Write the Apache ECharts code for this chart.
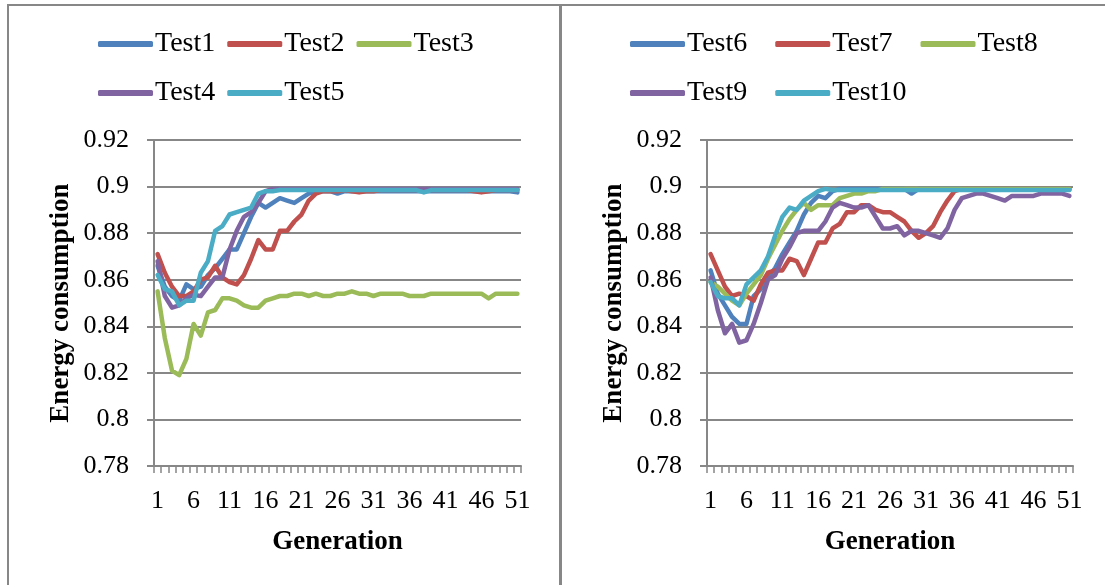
<!DOCTYPE html>
<html>
<head>
<meta charset="utf-8">
<script src="https://cdn.jsdelivr.net/npm/echarts@6/dist/echarts.min.js"></script>
<style>html,body{margin:0;padding:0;background:#fff;}#c{width:1105px;height:585px;}</style>
</head>
<body>
<div id="c"></div>
<script>
const categories = ['1','2','3','4','5','6','7','8','9','10','11','12','13','14','15','16','17','18','19','20','21','22','23','24','25','26','27','28','29','30','31','32','33','34','35','36','37','38','39','40','41','42','43','44','45','46','47','48','49','50','51'];
const yTicks = [0.78, 0.80, 0.82, 0.84, 0.86, 0.88, 0.90, 0.92];

const test1 = [0.866,0.857,0.853,0.851,0.858,0.856,0.857,0.862,0.865,0.869,0.873,0.873,0.880,0.887,0.893,0.891,0.893,0.895,0.894,0.893,0.895,0.897,0.898,0.898,0.898,0.897,0.898,0.898,0.898,0.898,0.898,0.898,0.898,0.898,0.898,0.898,0.898,0.898,0.898,0.898,0.898,0.898,0.898,0.898,0.898,0.898,0.898,0.898,0.898,0.898,0.8975];
const test2 = [0.871,0.863,0.857,0.853,0.853,0.855,0.860,0.861,0.866,0.861,0.859,0.858,0.862,0.869,0.877,0.873,0.873,0.881,0.881,0.885,0.888,0.894,0.897,0.898,0.898,0.898,0.8985,0.898,0.8975,0.898,0.898,0.8985,0.8985,0.8985,0.8985,0.8985,0.8985,0.8985,0.8985,0.8985,0.8985,0.8985,0.8985,0.8985,0.898,0.8975,0.898,0.8985,0.8985,0.8985,0.8985];
const test3 = [0.855,0.835,0.821,0.819,0.826,0.841,0.836,0.846,0.847,0.852,0.852,0.851,0.849,0.848,0.848,0.851,0.852,0.853,0.853,0.854,0.854,0.853,0.854,0.853,0.853,0.854,0.854,0.855,0.854,0.854,0.853,0.854,0.854,0.854,0.854,0.853,0.853,0.853,0.854,0.854,0.854,0.854,0.854,0.854,0.854,0.854,0.852,0.854,0.854,0.854,0.854];
const test4 = [0.868,0.853,0.848,0.849,0.852,0.8535,0.853,0.857,0.861,0.861,0.873,0.881,0.887,0.889,0.893,0.898,0.899,0.899,0.899,0.899,0.899,0.899,0.899,0.899,0.899,0.899,0.899,0.899,0.899,0.899,0.899,0.899,0.899,0.899,0.899,0.899,0.899,0.899,0.899,0.899,0.899,0.899,0.899,0.899,0.899,0.899,0.899,0.899,0.899,0.899,0.899];
const test5 = [0.862,0.856,0.855,0.849,0.851,0.851,0.863,0.868,0.881,0.883,0.888,0.889,0.890,0.891,0.897,0.898,0.898,0.8985,0.8985,0.8985,0.8985,0.8985,0.8985,0.8985,0.8985,0.8985,0.8985,0.8985,0.8985,0.8985,0.8985,0.8985,0.8985,0.8985,0.8985,0.8985,0.8985,0.8975,0.8985,0.8985,0.8985,0.8985,0.8985,0.8985,0.8985,0.8985,0.8985,0.8985,0.8985,0.8985,0.8985];

const test6 = [0.864,0.854,0.849,0.844,0.841,0.841,0.853,0.856,0.861,0.865,0.871,0.876,0.881,0.888,0.893,0.896,0.895,0.898,0.899,0.899,0.899,0.899,0.899,0.899,0.899,0.899,0.899,0.899,0.897,0.899,0.899,0.899,0.899,0.899,0.899,0.899,0.899,0.899,0.899,0.899,0.899,0.899,0.899,0.899,0.899,0.899,0.899,0.899,0.899,0.899,0.899];
const test7 = [0.871,0.864,0.857,0.853,0.854,0.853,0.851,0.858,0.863,0.864,0.864,0.869,0.868,0.862,0.869,0.876,0.876,0.882,0.884,0.889,0.889,0.892,0.892,0.890,0.889,0.889,0.887,0.885,0.881,0.878,0.880,0.883,0.889,0.894,0.898,0.899,0.899,0.899,0.899,0.899,0.899,0.899,0.899,0.899,0.899,0.899,0.899,0.899,0.899,0.899,0.899];
const test8 = [0.859,0.857,0.854,0.851,0.849,0.854,0.858,0.862,0.869,0.875,0.881,0.886,0.890,0.893,0.890,0.892,0.892,0.892,0.895,0.896,0.897,0.897,0.898,0.898,0.899,0.899,0.899,0.899,0.899,0.899,0.899,0.899,0.899,0.899,0.899,0.899,0.899,0.899,0.899,0.899,0.899,0.899,0.899,0.899,0.899,0.899,0.899,0.899,0.899,0.899,0.899];
const test9 = [0.861,0.847,0.837,0.841,0.833,0.834,0.841,0.850,0.860,0.862,0.869,0.874,0.880,0.881,0.881,0.881,0.885,0.891,0.893,0.892,0.891,0.891,0.892,0.887,0.882,0.882,0.883,0.879,0.881,0.881,0.880,0.879,0.878,0.882,0.890,0.895,0.896,0.897,0.897,0.896,0.895,0.894,0.896,0.896,0.896,0.896,0.897,0.897,0.897,0.897,0.896];
const test10 = [0.859,0.853,0.852,0.852,0.849,0.858,0.861,0.864,0.870,0.879,0.887,0.891,0.890,0.894,0.896,0.898,0.899,0.8985,0.8985,0.8985,0.8985,0.8985,0.8985,0.8985,0.8985,0.8985,0.8985,0.8985,0.8985,0.8985,0.8985,0.8985,0.8985,0.8985,0.8985,0.8985,0.8985,0.8985,0.8985,0.8985,0.8985,0.8985,0.8985,0.8985,0.8985,0.8985,0.8985,0.8985,0.8985,0.8985,0.8985];

const leftNames = ['Test1','Test2','Test3','Test4','Test5'];
const rightNames = ['Test6','Test7','Test8','Test9','Test10'];
const leftData = [test1, test2, test3, test4, test5];
const rightData = [test6, test7, test8, test9, test10];
const colors = ['#4F81BD','#C0504D','#9BBB59','#8064A2','#4BACC6'];

const FONT = '"Liberation Serif", "DejaVu Serif", serif';
const GRAY = '#878787';

function xAxis(gi) {
  return {
    type: 'category', gridIndex: gi, data: categories, boundaryGap: true,
    name: 'Generation', nameLocation: 'middle', nameGap: 63,
    nameTextStyle: { fontFamily: FONT, fontSize: 27, fontWeight: 'bold', color: '#000' },
    axisLine: { lineStyle: { color: GRAY, width: 2 } },
    axisTick: { show: true, interval: 0, length: 7, alignWithLabel: false, lineStyle: { color: GRAY, width: 1.5 } },
    axisLabel: { interval: 4, margin: 22, fontFamily: FONT, fontSize: 26, color: '#000' },
    splitLine: { show: false }
  };
}
function yAxis(gi) {
  return {
    type: 'value', gridIndex: gi, min: yTicks[0], max: yTicks[yTicks.length - 1], interval: 0.02,
    name: 'Energy consumption', nameLocation: 'middle', nameGap: 79,
    nameTextStyle: { fontFamily: FONT, fontSize: 27, fontWeight: 'bold', color: '#000' },
    axisLine: { show: true, lineStyle: { color: GRAY, width: 2 } },
    axisTick: { show: true, length: 7, lineStyle: { color: GRAY, width: 2 } },
    axisLabel: { margin: 25, fontFamily: FONT, fontSize: 26, color: '#000',
      formatter: v => String(Math.round(v * 100) / 100) },
    splitLine: { show: true, lineStyle: { color: GRAY, width: 2 } }
  };
}
function legend(names, left, top, gap) {
  return {
    data: names, left: left, top: top, orient: 'horizontal', itemGap: gap, padding: 0,
    itemWidth: 55, itemHeight: 6, icon: 'roundRect', selectedMode: false,
    textStyle: { fontFamily: FONT, fontSize: 28, color: '#000', padding: [0, 0, 0, -3] }
  };
}
const series = [];
leftNames.forEach((n, i) => series.push({
  name: n, type: 'line', xAxisIndex: 0, yAxisIndex: 0, data: leftData[i],
  showSymbol: false, symbol: 'none', color: colors[i],
  lineStyle: { width: 4.5, color: colors[i], cap: 'round', join: 'round' }, animation: false
}));
rightNames.forEach((n, i) => series.push({
  name: n, type: 'line', xAxisIndex: 1, yAxisIndex: 1, data: rightData[i],
  showSymbol: false, symbol: 'none', color: colors[i],
  lineStyle: { width: 4.5, color: colors[i], cap: 'round', join: 'round' }, animation: false
}));

const chart = echarts.init(document.getElementById('c'), null, { renderer: 'canvas' });
chart.setOption({
  backgroundColor: '#fff',
  animation: false,
  graphic: [
    { type: 'rect', shape: { x: 8, y: 5, width: 552, height: 620 }, style: { fill: 'none', stroke: GRAY, lineWidth: 2 }, silent: true },
    { type: 'rect', shape: { x: 561, y: 5, width: 560, height: 620 }, style: { fill: 'none', stroke: GRAY, lineWidth: 2 }, silent: true }
  ],
  legend: [
    legend(leftNames.slice(0, 3), 98, 30, 12),
    legend(leftNames.slice(3), 98, 79, 12),
    legend(rightNames.slice(0, 3), 630, 30, 28),
    legend(rightNames.slice(3), 630, 79, 28)
  ],
  grid: [
    { left: 154, top: 140, width: 367, height: 326, containLabel: false },
    { left: 707, top: 140, width: 366, height: 326, containLabel: false }
  ],
  xAxis: [xAxis(0), xAxis(1)],
  yAxis: [yAxis(0), yAxis(1)],
  series: series
});
</script>
</body>
</html>
